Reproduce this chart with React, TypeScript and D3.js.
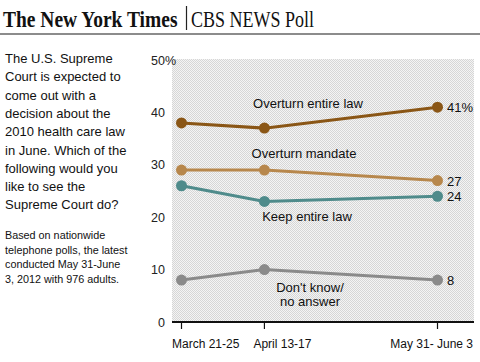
import React from "react";
import * as d3 from "d3";

const periods = ["March 21-25", "April 13-17", "May 31- June 3"];
const periodDays = [0, 23, 71];
const yTicks = [0, 10, 20, 30, 40, 50];

const overturnAll = [38, 37, 41];
const overturnMandate = [29, 29, 27];
const keepAll = [26, 23, 24];
const dontKnow = [8, 10, 8];

const series = [
  { name: "Overturn entire law", values: overturnAll, color: "#8a5616", end: "41%", lx: 308, ly: 103 },
  { name: "Overturn mandate", values: overturnMandate, color: "#b7874c", end: "27", lx: 304, ly: 153 },
  { name: "Keep entire law", values: keepAll, color: "#4f8b8b", end: "24", lx: 307, ly: 216 },
  { name: "Don't know/\nno answer", values: dontKnow, color: "#8a8a8a", end: "8", lx: 310, ly: 287 },
];

const question = [
  "The U.S. Supreme",
  "Court is expected to",
  "come out with a",
  "decision about the",
  "2010 health care law",
  "in June. Which of the",
  "following would you",
  "like to see the",
  "Supreme Court do?",
];

const note = [
  "Based on nationwide",
  "telephone polls, the latest",
  "conducted May 31-June",
  "3, 2012 with 976 adults.",
];

const App = () => {
  const W = 480,
    H = 362;
  const plot = { left: 172, right: 474, top: 59, bottom: 322 };

  const x = d3.scaleLinear().domain([0, 71]).range([181.5, 437.5]);
  const y = d3.scaleLinear().domain([0, 50]).range([322, 60]);

  const line = d3
    .line<number>()
    .x((d, i) => x(periodDays[i]))
    .y((d) => y(d));

  const font = "'Liberation Sans', Arial, sans-serif";

  return (
    <svg
      width={W}
      height={H}
      style={{ position: "absolute", left: 0, top: 0, background: "#fff" }}
    >
      <defs>
        <pattern id="dither" width={2} height={2} patternUnits="userSpaceOnUse">
          <rect width={2} height={2} fill="#f4f4f4" />
          <rect x={0} y={0} width={1} height={1} fill="#d6d6d6" />
          <rect x={1} y={1} width={1} height={1} fill="#d6d6d6" />
        </pattern>
      </defs>

      {/* header */}
      <g transform="translate(3,27) scale(1,1.18)">
        <text
          x={0}
          y={0}
          fontFamily="'Liberation Serif', serif"
          fontWeight="bold"
          fontSize={19.5}
          fill="#111"
        >
          The New York Times
        </text>
      </g>
      <line x1={186.5} x2={186.5} y1={6} y2={30} stroke="#222" strokeWidth={1.2} />
      <g transform="translate(191,27) scale(1,1.25)">
        <text
          x={0}
          y={0}
          fontFamily="'Liberation Serif', serif"
          fontSize={18}
          fill="#111"
        >
          CBS NEWS Poll
        </text>
      </g>
      <line x1={0} x2={W} y1={34} y2={34} stroke="#8c8c8c" strokeWidth={2} />

      {/* left text */}
      <g fontFamily={font} fill="#111">
        {question.map((t, i) => (
          <text key={t} x={5} y={63 + i * 18.3} fontSize={13}>
            {t}
          </text>
        ))}
        {note.map((t, i) => (
          <text key={t} x={5} y={239 + i * 14.5} fontSize={10.8}>
            {t}
          </text>
        ))}
      </g>

      {/* plot background */}
      <rect
        x={plot.left}
        y={plot.top}
        width={plot.right - plot.left}
        height={plot.bottom - plot.top}
        fill="url(#dither)"
      />

      {/* y axis labels */}
      <g fontFamily={font} fontSize={12.5} fill="#222">
        {yTicks.map((t) => (
          <g key={t}>
            <text x={165} y={y(t) + 4.5} textAnchor="end">
              {t}
            </text>
            {t === 50 && (
              <text x={165} y={y(t) + 4.5}>
                %
              </text>
            )}
          </g>
        ))}
      </g>

      {/* x axis */}
      <line x1={plot.left} x2={plot.right} y1={322} y2={322} stroke="#111" strokeWidth={2} />
      {periods.map((p, i) => (
        <g key={p}>
          <line
            x1={x(periodDays[i])}
            x2={x(periodDays[i])}
            y1={322}
            y2={329}
            stroke="#111"
            strokeWidth={1.2}
          />
          <text
            x={i === 2 ? 473 : x(periodDays[i]) - (i === 0 ? 9.5 : 11)}
            y={348}
            textAnchor={i === 2 ? "end" : "start"}
            fontFamily={font}
            fontSize={12}
            fill="#111"
          >
            {p}
          </text>
        </g>
      ))}

      {/* series */}
      {series.map((s) => (
        <g key={s.name}>
          <path d={line(s.values) || ""} fill="none" stroke={s.color} strokeWidth={3} />
          {s.values.map((v, i) => (
            <circle key={i} cx={x(periodDays[i])} cy={y(v)} r={5.5} fill={s.color} />
          ))}
          <text
            x={447}
            y={y(s.values[2]) + 5}
            fontFamily={font}
            fontSize={13}
            fill="#111"
          >
            {s.end}
          </text>
          {s.name.split("\n").map((t, j) => (
            <text
              key={t}
              x={s.lx}
              y={s.ly + 5 + j * 14}
              textAnchor="middle"
              fontFamily={font}
              fontSize={13}
              fill="#111"
            >
              {t}
            </text>
          ))}
        </g>
      ))}
    </svg>
  );
};

export default App;
